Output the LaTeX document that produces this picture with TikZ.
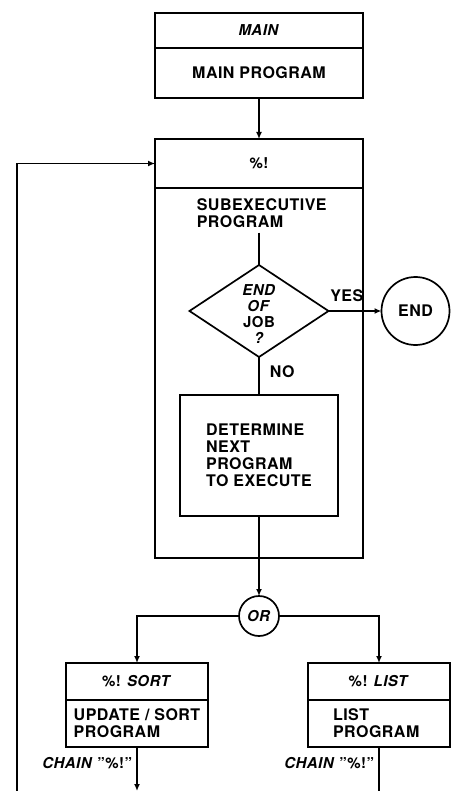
\documentclass[tikz,border=0pt]{standalone}
\usepackage{fontspec}
\setmainfont{TeX Gyre Heros}[LetterSpace=3]
\usetikzlibrary{arrows.meta,positioning,shapes.geometric}

\newcommand{\bodyfont}{\bfseries\fontsize{16}{17}\selectfont}
\newcommand{\headfont}{\bfseries\fontsize{15}{16}\selectfont}

\begin{document}
\begin{tikzpicture}[
  x=1pt, y=-1pt,
  font=\bodyfont,
  line width=1.7pt,
  >={Latex[length=7pt,width=6pt]},
  unit/.style={draw, outer sep=0pt, inner sep=0pt},
  wide/.style={unit, minimum width=208pt},
  narrow/.style={unit, minimum width=142pt, align=left},
  head/.style={font=\headfont},
  txt/.style={inner sep=0pt, align=left},
  decide/.style={unit, diamond, minimum width=139pt, minimum height=92pt},
  term/.style={unit, circle},
  arrow/.style={->}
]
\useasboundingbox (0,0) rectangle (458,791);

% main program
\node[wide, head, minimum height=35pt] (mainhd) at (259,30.5) {\textit{MAIN}};
\node[wide, minimum height=50pt, below=0pt of mainhd] (mainbd) {MAIN PROGRAM};

% subexecutive
\node[wide, head, minimum height=49pt, below=41pt of mainbd] (exec) {\%!};
\node[wide, minimum height=370pt, below=0pt of exec] (sub) {};
\node[txt, anchor=north west] (subtxt) at ([xshift=41pt,yshift=-10pt]sub.north west) {SUBEXECUTIVE\\PROGRAM};

\node[decide, below=77pt of sub.north] (job) {};
\node[txt, align=center, font=\headfont] (jobtxt) at ([yshift=-3pt]job.center) {\textit{END}\\\textit{OF}\\JOB\\\textit{?}};
\node[term, minimum size=68pt, right=53pt of job] (endc) {END};
\node[txt, anchor=south west] (yes) at ([xshift=1pt,yshift=8pt]job.east) {YES};
\node[txt, anchor=north west] (no) at ([xshift=10pt,yshift=-8pt]job.south) {NO};

\node[unit, align=left, minimum width=158pt, minimum height=121pt, below=38pt of job.south] (pick) {DETERMINE\\NEXT\\PROGRAM\\TO EXECUTE};

\node[term, head, minimum size=40pt, below=80pt of pick] (orc) {\textit{OR}};

% chained programs
\node[narrow, head, minimum height=37pt, below left=47pt and 31pt of orc.west] (sorthd) {\%! \textit{SORT}};
\node[narrow, minimum height=47pt, below=0pt of sorthd] (sortbd) {UPDATE / SORT\\PROGRAM};
\node[narrow, head, minimum height=37pt, below right=47pt and 29pt of orc.east] (listhd) {\%! \textit{LIST}};
\node[narrow, text width=92pt, minimum height=47pt, below=0pt of listhd] (listbd) {LIST\\PROGRAM};

\node[txt, head, anchor=east] (chainl) at ([xshift=-4pt,yshift=-16pt]sortbd.south) {\textit{CHAIN} "\%!"};
\node[txt, head, anchor=east] (chainr) at ([xshift=-4pt,yshift=-16pt]listbd.south) {\textit{CHAIN} "\%!"};

\coordinate (sortout) at (sortbd.south |- 0,791);
\coordinate (listout) at (listbd.south |- 0,791);
\coordinate (loopin) at (17,791);

\draw[arrow] (mainbd) -- (exec);
\draw (subtxt.south -| job.north) ++(0,4) -- (job.north);
\draw[arrow] (job) -- (endc);
\draw (job.south) -- (job.south |- pick.north);
\draw[arrow] (pick) -- (orc);
\draw[arrow] (orc.west) -| (sorthd.north);
\draw[arrow] (orc.east) -| (listhd.north);
\draw[arrow] (sortbd.south) -- (sortout);
\draw (listbd.south) -- (listout);
\draw[arrow] (loopin) |- (exec.west);

\end{tikzpicture}
\end{document}
